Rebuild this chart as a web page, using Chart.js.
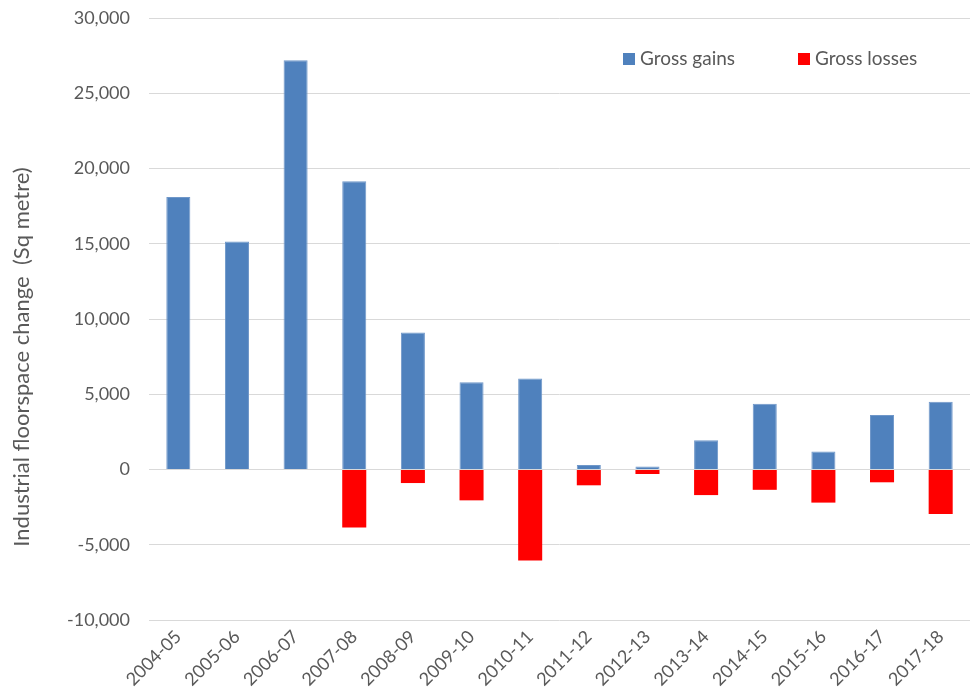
<!DOCTYPE html>
<html>
<head>
<meta charset="utf-8">
<script src="https://cdn.jsdelivr.net/npm/chart.js@4/dist/chart.umd.min.js"></script>
<style>
  html, body { margin: 0; padding: 0; background: #ffffff; }
  #wrap { width: 974px; height: 700px; }
</style>
</head>
<body>
<div id="wrap"><canvas id="c" width="974" height="700"></canvas></div>
<script>
const categories = ["2004-05","2005-06","2006-07","2007-08","2008-09","2009-10","2010-11","2011-12","2012-13","2013-14","2014-15","2015-16","2016-17","2017-18"];
const grossGains = [18100, 15150, 27200, 19150, 9100, 5800, 6050, 300, 200, 1950, 4370, 1200, 3620, 4500];
const grossLosses = [0, 0, 0, -3850, -900, -2050, -6050, -1050, -300, -1700, -1350, -2200, -850, -2950];
const yTicks = [-10000, -5000, 0, 5000, 10000, 15000, 20000, 25000, 30000];
const seriesNames = ["Gross gains", "Gross losses"];
const seriesColors = ["#4f81bd", "#ff0000"];
const yTitle = "Industrial floorspace change  (Sq metre)";

const FONT = "Lato, 'Open Sans', sans-serif";
const GREY = "#595959";

const legendPlugin = {
  id: 'insideLegend',
  afterDraw(chart) {
    const ctx = chart.ctx;
    const ca = chart.chartArea;
    const items = [
      { x: ca.left + 474, name: seriesNames[0], color: seriesColors[0] },
      { x: ca.left + 649, name: seriesNames[1], color: seriesColors[1] }
    ];
    const y = ca.top + 41;
    ctx.save();
    ctx.font = "19px " + FONT;
    ctx.textBaseline = "middle";
    ctx.textAlign = "left";
    items.forEach(it => {
      ctx.fillStyle = it.color;
      ctx.fillRect(it.x, y - 6, 12, 12);
      ctx.fillStyle = GREY;
      ctx.fillText(it.name, it.x + 17, y);
    });
    ctx.restore();
  }
};

const yTitlePlugin = {
  id: 'yTitle',
  afterDraw(chart) {
    const ctx = chart.ctx;
    ctx.save();
    ctx.font = "22px " + FONT;
    ctx.fillStyle = GREY;
    ctx.textAlign = "center";
    ctx.textBaseline = "middle";
    ctx.translate(22, 357);
    ctx.rotate(-Math.PI / 2);
    ctx.fillText(yTitle, 0, 0);
    ctx.restore();
  }
};

new Chart(document.getElementById('c'), {
  type: 'bar',
  data: {
    labels: categories,
    datasets: [
      { label: seriesNames[0], data: grossGains, backgroundColor: seriesColors[0], borderColor: "#6f97c9", borderWidth: 1, barPercentage: 0.41, categoryPercentage: 1.0 },
      { label: seriesNames[1], data: grossLosses, backgroundColor: seriesColors[1], borderWidth: 0, barPercentage: 0.41, categoryPercentage: 1.0 }
    ]
  },
  options: {
    responsive: false,
    animation: false,
    devicePixelRatio: 1,
    layout: { padding: { top: 18, right: 4, left: 0, bottom: 0 } },
    plugins: {
      legend: { display: false },
      tooltip: { enabled: false }
    },
    scales: {
      x: {
        stacked: true,
        grid: { display: false, drawTicks: false },
        border: { display: false },
        ticks: {
          color: GREY,
          font: { family: FONT, size: 18 },
          maxRotation: 45,
          minRotation: 45,
          padding: 6
        },
        afterFit(scale) { scale.height = 80; }
      },
      y: {
        stacked: true,
        min: -10000,
        max: 30000,
        afterBuildTicks(scale) { scale.ticks = yTicks.map(v => ({ value: v })); },
        grid: { color: "#d9d9d9", lineWidth: 1, drawTicks: false },
        border: { display: false },
        ticks: {
          color: GREY,
          font: { family: FONT, size: 18 },
          padding: 19,
          callback: v => v.toLocaleString('en-US')
        },
        afterFit(scale) { scale.width = 149; scale.paddingTop = 0; scale.paddingBottom = 0; }
      }
    }
  },
  plugins: [legendPlugin, yTitlePlugin]
});
</script>
</body>
</html>
